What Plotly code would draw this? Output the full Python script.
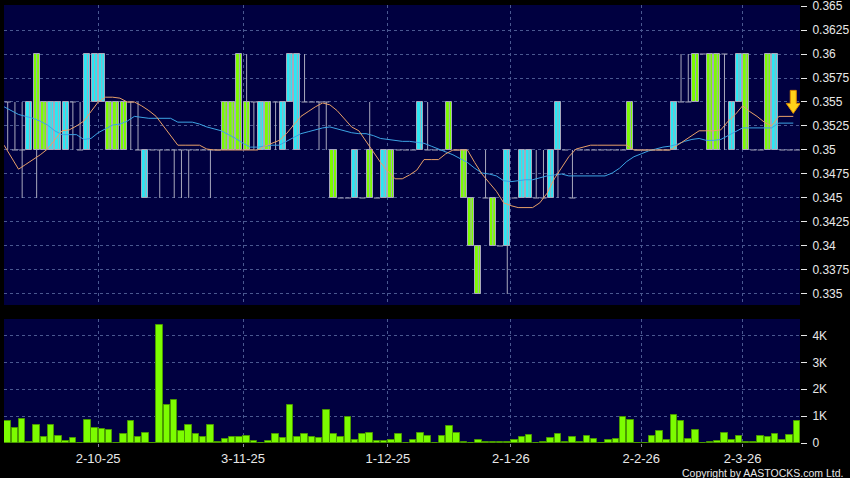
import plotly.graph_objects as go

# ---------------- data ----------------
opens = [0.355,0.35,0.35,0.355,0.35,0.35,0.355,0.355,0.355,0.355,
         0.35,0.36,0.36,0.36,0.35,0.35,0.35,0.355,0.35,0.35,
         0.35,0.35,0.35,0.35,0.35,0.35,0.35,0.35,0.35,0.35,
         0.35,0.35,0.35,0.35,0.355,0.355,0.35,0.355,0.355,0.36,
         0.36,0.355,0.355,0.355,0.355,0.345,0.345,0.345,0.35,0.345,
         0.345,0.345,0.35,0.345,0.35,0.35,0.35,0.355,0.35,0.35,
         0.35,0.35,0.35,0.345,0.34,0.335,0.345,0.34,0.34,0.35,
         0.345,0.35,0.35,0.345,0.345,0.35,0.355,0.35,0.345,0.35,
         0.35,0.35,0.35,0.35,0.35,0.35,0.35,0.35,0.35,0.35,
         0.35,0.35,0.355,0.355,0.355,0.355,0.36,0.35,0.35,0.36,
         0.355,0.36,0.35,0.35,0.35,0.35,0.36,0.35,0.35,0.35]
closes = [0.355,0.35,0.35,0.35,0.36,0.355,0.35,0.35,0.35,0.355,
          0.35,0.35,0.355,0.355,0.355,0.355,0.355,0.355,0.35,0.345,
          0.35,0.35,0.35,0.35,0.35,0.35,0.35,0.35,0.35,0.35,
          0.355,0.355,0.36,0.355,0.355,0.35,0.355,0.355,0.35,0.355,
          0.35,0.355,0.355,0.355,0.355,0.35,0.345,0.345,0.345,0.345,
          0.35,0.345,0.345,0.35,0.35,0.35,0.35,0.35,0.35,0.35,
          0.35,0.355,0.35,0.35,0.345,0.34,0.345,0.345,0.34,0.34,
          0.345,0.345,0.345,0.345,0.345,0.345,0.35,0.35,0.345,0.35,
          0.35,0.35,0.35,0.35,0.35,0.35,0.355,0.35,0.35,0.35,
          0.35,0.35,0.35,0.355,0.355,0.36,0.36,0.36,0.36,0.36,
          0.35,0.355,0.36,0.35,0.35,0.36,0.35,0.35,0.35,0.35]
highs = [0.355,0.355,0.355,0.355,0.36,0.355,0.355,0.355,0.355,0.355,
         0.355,0.36,0.36,0.36,0.355,0.355,0.355,0.355,0.355,0.35,
         0.35,0.35,0.35,0.35,0.35,0.35,0.35,0.35,0.35,0.35,
         0.355,0.355,0.36,0.36,0.355,0.355,0.355,0.355,0.355,0.36,
         0.36,0.36,0.355,0.355,0.355,0.35,0.345,0.345,0.35,0.345,
         0.355,0.345,0.35,0.35,0.35,0.35,0.35,0.355,0.355,0.35,
         0.35,0.355,0.35,0.35,0.345,0.34,0.35,0.345,0.34,0.35,
         0.345,0.35,0.35,0.35,0.35,0.35,0.355,0.35,0.35,0.35,
         0.35,0.35,0.35,0.35,0.35,0.35,0.355,0.35,0.35,0.35,
         0.35,0.35,0.355,0.36,0.36,0.36,0.36,0.36,0.36,0.36,
         0.355,0.36,0.36,0.35,0.35,0.36,0.36,0.35,0.35,0.35]
lows = [0.35,0.35,0.345,0.35,0.345,0.35,0.35,0.35,0.35,0.35,
        0.35,0.35,0.355,0.355,0.35,0.35,0.35,0.35,0.35,0.345,
        0.35,0.345,0.35,0.345,0.345,0.345,0.35,0.35,0.345,0.35,
        0.35,0.35,0.35,0.35,0.35,0.35,0.35,0.35,0.35,0.355,
        0.35,0.355,0.355,0.35,0.35,0.345,0.345,0.345,0.345,0.345,
        0.345,0.345,0.345,0.345,0.35,0.35,0.35,0.35,0.35,0.35,
        0.35,0.35,0.35,0.345,0.34,0.335,0.345,0.34,0.34,0.335,
        0.345,0.345,0.345,0.345,0.345,0.345,0.345,0.35,0.345,0.35,
        0.35,0.35,0.35,0.35,0.35,0.35,0.35,0.35,0.35,0.35,
        0.35,0.35,0.35,0.355,0.355,0.355,0.36,0.35,0.35,0.35,
        0.35,0.355,0.35,0.35,0.35,0.35,0.35,0.35,0.35,0.35]
volume_k = [0.80,0.54,0.89,0.05,0.67,0.23,0.68,0.26,0.06,0.20,
            0.0,0.85,0.57,0.52,0.48,0.01,0.35,0.83,0.21,0.38,
            0.0,4.37,1.41,1.59,0.43,0.68,0.35,0.22,0.68,0.04,
            0.14,0.21,0.22,0.25,0.06,0.0,0.06,0.35,0.19,1.43,
            0.22,0.35,0.22,0.17,1.23,0.33,0.22,0.95,0.12,0.33,
            0.37,0.09,0.09,0.12,0.35,0.0,0.10,0.37,0.27,0.0,
            0.27,0.63,0.36,0.04,0.01,0.11,0.05,0.02,0.05,0.05,
            0.12,0.23,0.31,0.0,0.03,0.20,0.32,0.05,0.23,0.02,
            0.25,0.16,0.0,0.11,0.16,0.95,0.86,0.0,0.0,0.25,
            0.43,0.10,1.05,0.81,0.14,0.49,0.0,0.04,0.07,0.36,
            0.10,0.27,0.05,0.05,0.27,0.22,0.32,0.10,0.28,0.81]
ma_short = [0.3505,0.3492,0.3480,0.3485,0.3490,0.3495,0.3501,0.3511,0.3520,0.3521,
            0.3525,0.3530,0.3540,0.3550,0.3555,0.3555,0.3554,0.3550,0.3550,0.3546,
            0.3541,0.3535,0.3525,0.3515,0.3505,0.3505,0.3505,0.3505,0.3501,0.3500,
            0.3500,0.3500,0.3500,0.3500,0.3500,0.3500,0.3504,0.3507,0.3510,0.3517,
            0.3526,0.3535,0.3540,0.3545,0.3549,0.3547,0.3541,0.3533,0.3524,0.3520,
            0.3509,0.3497,0.3487,0.3478,0.3470,0.3470,0.3474,0.3479,0.3490,0.3490,
            0.3490,0.3496,0.3500,0.3500,0.3500,0.3487,0.3475,0.3466,0.3457,0.3445,
            0.3442,0.3440,0.3440,0.3440,0.3445,0.3455,0.3470,0.3482,0.3493,0.3501,
            0.3503,0.3505,0.3505,0.3505,0.3505,0.3505,0.3505,0.3500,0.3500,0.3500,
            0.3500,0.3500,0.3500,0.3505,0.3510,0.3515,0.3520,0.3520,0.3520,0.3521,
            0.3530,0.3537,0.3546,0.3540,0.3535,0.3529,0.3525,0.3535,0.3535,0.3535]
ma_long = [0.3545,0.3541,0.3537,0.3535,0.3533,0.3530,0.3526,0.3520,0.3516,0.3516,
           0.3516,0.3511,0.3512,0.3518,0.3522,0.3526,0.3527,0.3530,0.3535,0.3534,
           0.3533,0.3533,0.3533,0.3533,0.3529,0.3529,0.3529,0.3527,0.3524,0.3522,
           0.3520,0.3516,0.3512,0.3507,0.3503,0.3503,0.3504,0.3505,0.3505,0.3509,
           0.3513,0.3517,0.3519,0.3521,0.3523,0.3524,0.3522,0.3520,0.3518,0.3517,
           0.3517,0.3515,0.3512,0.3511,0.3510,0.3509,0.3509,0.3508,0.3507,0.3504,
           0.3501,0.3498,0.3495,0.3491,0.3487,0.3481,0.3476,0.3475,0.3473,0.3468,
           0.3467,0.3468,0.3469,0.3469,0.3471,0.3473,0.3474,0.3475,0.3473,0.3473,
           0.3473,0.3473,0.3473,0.3473,0.3476,0.3481,0.3488,0.3493,0.3496,0.3499,
           0.3501,0.3503,0.3504,0.3506,0.3509,0.3511,0.3512,0.3510,0.3510,0.3511,
           0.3515,0.3519,0.3523,0.3523,0.3523,0.3523,0.3523,0.3528,0.3528,0.3528]
date_tick_idx = [13, 33, 53, 70, 88, 102]
date_tick_labels = ["2-10-25", "3-11-25", "1-12-25", "2-1-26", "2-2-26", "2-3-26"]
price_ticks = [0.335, 0.3375, 0.34, 0.3425, 0.345, 0.3475, 0.35, 0.3525, 0.355, 0.3575, 0.36, 0.3625, 0.365]
price_tick_labels = ["0.335", "0.3375", "0.34", "0.3425", "0.345", "0.3475", "0.35",
                     "0.3525", "0.355", "0.3575", "0.36", "0.3625", "0.365"]
vol_ticks = [0, 1, 2, 3, 4]
vol_tick_labels = ["0", "1K", "2K", "3K", "4K"]

# ---------------- styles ----------------
BG = "#000040"
GRID = "#4a5890"
GREEN = "#7cfc00"
CYAN = "#2ae8f4"
WICK = "#a8a8bc"
ORANGE = "#e8a068"
BLUE = "#3ca4e4"
TXT = "#e8e8e8"
HALF = 0.5           # moving averages / dates sit half a bar left of candle centres
BODY_W = 0.84

n = len(opens)
idx = list(range(n))

fig = go.Figure()

# wicks
wx, wy = [], []
for i in idx:
    if highs[i] > lows[i]:
        wx += [i, i, None]
        wy += [lows[i], highs[i], None]
fig.add_trace(go.Scatter(x=wx, y=wy, mode="lines", line=dict(color=WICK, width=1),
                         hoverinfo="skip", showlegend=False, xaxis="x", yaxis="y"))

# bodies
for up, col in ((True, GREEN), (False, CYAN)):
    sel = [i for i in idx if (closes[i] > opens[i] if up else closes[i] < opens[i])]
    fig.add_trace(go.Bar(
        x=sel,
        y=[abs(closes[i] - opens[i]) for i in sel],
        base=[min(opens[i], closes[i]) for i in sel],
        width=BODY_W,
        marker=dict(color=col, line=dict(color=WICK, width=1)),
        showlegend=False, xaxis="x", yaxis="y"))

# doji ticks
dx, dy = [], []
for i in idx:
    if opens[i] == closes[i]:
        dx += [i - BODY_W / 2, i + BODY_W / 2, None]
        dy += [opens[i], opens[i], None]
fig.add_trace(go.Scatter(x=dx, y=dy, mode="lines", line=dict(color=WICK, width=1),
                         hoverinfo="skip", showlegend=False, xaxis="x", yaxis="y"))

# moving averages
ma_x = [i - HALF for i in idx]
fig.add_trace(go.Scatter(x=ma_x, y=ma_long, mode="lines", line=dict(color=BLUE, width=1),
                         showlegend=False, xaxis="x", yaxis="y"))
fig.add_trace(go.Scatter(x=ma_x, y=ma_short, mode="lines", line=dict(color=ORANGE, width=1),
                         showlegend=False, xaxis="x", yaxis="y"))

# volume
fig.add_trace(go.Bar(x=idx, y=volume_k, width=0.9,
                     marker=dict(color=GREEN, line=dict(color="#4a9a00", width=1)),
                     showlegend=False, xaxis="x2", yaxis="y2"))

xr = [-0.51, n - 1 + 0.43]
tickpos = [t - HALF for t in date_tick_idx]
axis_font = dict(family="Liberation Sans, Arial, sans-serif", size=12, color=TXT)

common_x = dict(range=xr, showgrid=True, gridcolor=GRID, griddash="3px,3px", gridwidth=1,
                zeroline=False, showline=False, tickmode="array", tickvals=tickpos)

fig.update_layout(
    width=850, height=478,
    margin=dict(l=4, r=50, t=5, b=35, autoexpand=False),
    paper_bgcolor="#000000", plot_bgcolor=BG,
    barmode="overlay", bargap=0,
    xaxis=dict(**common_x, domain=[0, 1], anchor="y", showticklabels=False, ticks=""),
    xaxis2=dict(**common_x, domain=[0, 1], anchor="y2", matches="x",
                ticktext=date_tick_labels, ticks="outside", ticklen=3, tickcolor="#8888a0",
                ticklabelstandoff=0,
                tickfont=dict(family="Liberation Sans, Arial, sans-serif", size=13, color=TXT)),
    yaxis=dict(domain=[0.3151, 1], range=[0.333854, 0.365104], side="right", anchor="x",
               tickmode="array", tickvals=price_ticks, ticktext=price_tick_labels,
               ticklabeloverflow="allow", ticklabelstandoff=3,
               showgrid=True, gridcolor=GRID, griddash="3px,3px", zeroline=False,
               ticks="outside", ticklen=6, tickcolor=TXT, tickfont=axis_font),
    yaxis2=dict(domain=[0, 0.2831], range=[0, 4.61], side="right", anchor="x2",
                tickmode="array", tickvals=vol_ticks, ticktext=vol_tick_labels,
                ticklabeloverflow="allow", ticklabelstandoff=3,
                showgrid=True, gridcolor=GRID, griddash="3px,3px", zeroline=False,
                ticks="outside", ticklen=6, tickcolor=TXT, tickfont=axis_font),
)

# down arrow marker near the latest averages
fig.add_shape(type="path", xref="x", yref="y", xsizemode="pixel", ysizemode="pixel",
              xanchor=n - 1 - HALF, yanchor=ma_short[-1],
              path="M 0 3 L -7 13 L -3 13 L -3 26 L 3 26 L 3 13 L 7 13 Z",
              fillcolor="#ffd21a", line=dict(color="#e08c00", width=1))

fig.add_annotation(text="Copyright by AASTOCKS.com Ltd.", xref="paper", yref="paper",
                   x=1.0565, y=-0.068, xanchor="right", yanchor="middle", showarrow=False,
                   font=dict(family="Liberation Sans, Arial, sans-serif",
                             size=10.5, color=TXT))

fig.write_html("out.html", config={"displayModeBar": False},
               post_script="document.body.style.margin='0';document.body.style.overflow='hidden';")
